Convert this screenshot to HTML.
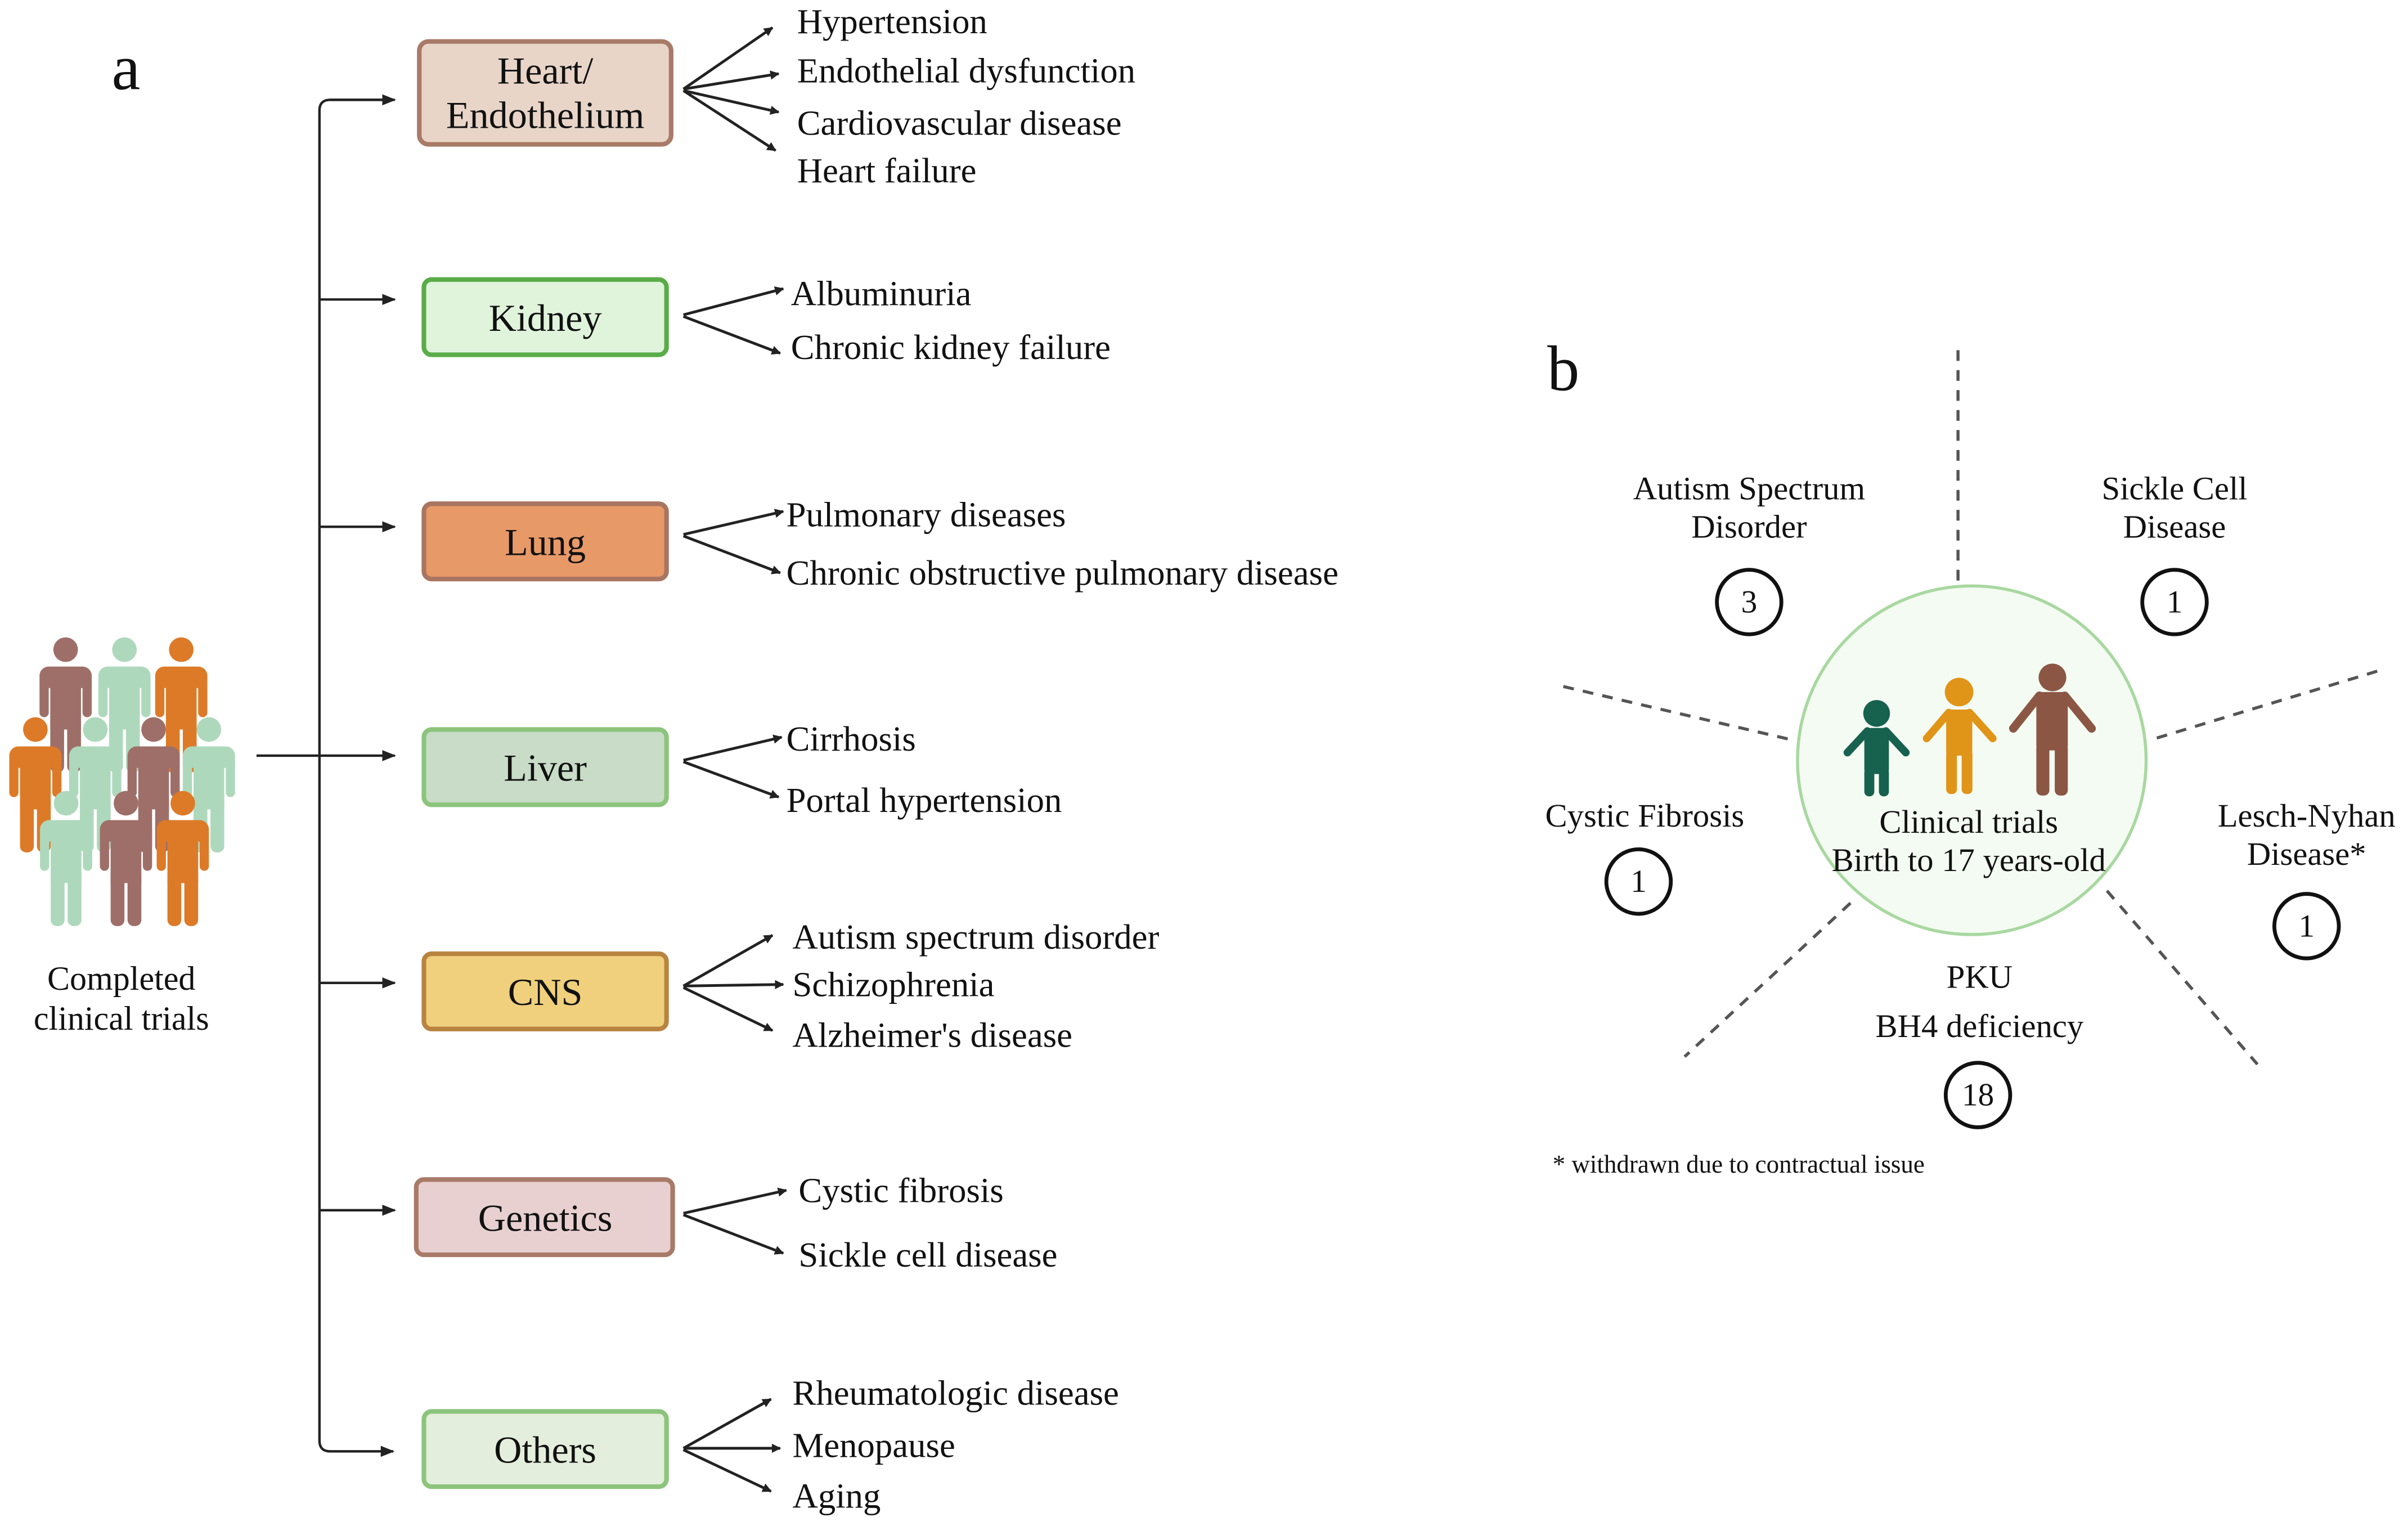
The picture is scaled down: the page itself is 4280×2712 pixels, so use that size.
<!DOCTYPE html>
<html><head><meta charset="utf-8"><style>
html,body{margin:0;padding:0;background:#fff;}
svg{display:block;}
text{font-family:"Liberation Serif","DejaVu Serif",serif;fill:#111;}
</style></head><body>
<svg width="4280" height="2712" viewBox="0 0 1568 993.6" xmlns="http://www.w3.org/2000/svg" font-family="Liberation Serif, serif">
<defs>
<marker id="ar" viewBox="0 0 10 10" refX="9" refY="5" markerWidth="6" markerHeight="6" markerUnits="userSpaceOnUse" orient="auto" >
<path d="M0,0 L10,5 L0,10 z" fill="#222"/></marker>
<marker id="ar2" viewBox="0 0 10 10" refX="9" refY="5" markerWidth="9" markerHeight="9" markerUnits="userSpaceOnUse" orient="auto">
<path d="M0,1 L10,5 L0,9 z" fill="#222"/></marker>
<g id="fig">
<circle cx="0" cy="8" r="8"/>
<rect x="-17" y="19" width="34" height="14" rx="6"/>
<rect x="-17" y="25" width="6" height="27" rx="3"/>
<rect x="11" y="25" width="6" height="27" rx="3"/>
<rect x="-10" y="25" width="20" height="35"/>
<rect x="-10" y="50" width="9" height="38" rx="4"/>
<rect x="1" y="50" width="9" height="38" rx="4"/>
</g>
</defs>

<text x="82" y="44" font-size="42" text-anchor="middle" dominant-baseline="central">a</text>

<g fill="#9e6f68"><use href="#fig" x="42.7" y="415"/></g>
<g fill="#aed8bc"><use href="#fig" x="81" y="415"/></g>
<g fill="#dd7a28"><use href="#fig" x="118" y="415"/></g>
<g fill="#dd7a28"><use href="#fig" x="23" y="467"/></g>
<g fill="#aed8bc"><use href="#fig" x="62" y="467"/></g>
<g fill="#9e6f68"><use href="#fig" x="100" y="467"/></g>
<g fill="#aed8bc"><use href="#fig" x="136" y="467"/></g>
<g fill="#aed8bc"><use href="#fig" x="43" y="515"/></g>
<g fill="#9e6f68"><use href="#fig" x="82" y="515"/></g>
<g fill="#dd7a28"><use href="#fig" x="119" y="515"/></g>
<text x="79" y="637" font-size="22" text-anchor="middle" dominant-baseline="central">Completed</text>
<text x="79" y="663" font-size="22" text-anchor="middle" dominant-baseline="central">clinical trials</text>

<g stroke="#222" stroke-width="1.6" fill="none">
<path d="M256 65 H215 Q208 65 208 72 V938 Q208 945 215 945 H256" marker-end="url(#ar2)"/>
<line x1="215" y1="65" x2="257" y2="65" marker-end="url(#ar2)"/>
<line x1="208" y1="195" x2="257" y2="195" marker-end="url(#ar2)"/>
<line x1="208" y1="343" x2="257" y2="343" marker-end="url(#ar2)"/>
<line x1="167" y1="492" x2="257" y2="492" marker-end="url(#ar2)"/>
<line x1="208" y1="640" x2="257" y2="640" marker-end="url(#ar2)"/>
<line x1="208" y1="788" x2="257" y2="788" marker-end="url(#ar2)"/>
</g>

<g stroke-width="3">
<rect x="273" y="27" width="164" height="67" rx="6" fill="#e8d5c8" stroke="#a87a68"/>
<rect x="276" y="182" width="158" height="49" rx="5" fill="#e0f4dc" stroke="#5aac48"/>
<rect x="276" y="328" width="158" height="49" rx="5" fill="#e89968" stroke="#a87560"/>
<rect x="276" y="475" width="158" height="49" rx="5" fill="#c8dcc8" stroke="#8cc47c"/>
<rect x="276" y="621" width="158" height="49" rx="5" fill="#f0d07c" stroke="#b88440"/>
<rect x="271" y="768" width="167" height="49" rx="5" fill="#e8d0d0" stroke="#a87a68"/>
<rect x="276" y="919" width="158" height="49" rx="5" fill="#e4eedc" stroke="#8cc47c"/>
</g>
<g font-size="25" text-anchor="middle" dominant-baseline="central">
<text x="355" y="46">Heart/</text>
<text x="355" y="75">Endothelium</text>
<text x="355" y="207">Kidney</text>
<text x="355" y="353">Lung</text>
<text x="355" y="500">Liver</text>
<text x="355" y="646">CNS</text>
<text x="355" y="793">Genetics</text>
<text x="355" y="944">Others</text>
</g>

<g stroke="#222" stroke-width="1.8" fill="none" marker-end="url(#ar)">
<line x1="445" y1="58" x2="503" y2="18"/>
<line x1="445" y1="58" x2="507" y2="48"/>
<line x1="445" y1="59" x2="507" y2="73"/>
<line x1="445" y1="59" x2="505" y2="98"/>
<line x1="445" y1="205" x2="510" y2="188"/>
<line x1="445" y1="206" x2="508" y2="230"/>
<line x1="445" y1="348" x2="510" y2="333"/>
<line x1="445" y1="349" x2="508" y2="373"/>
<line x1="445" y1="495" x2="509" y2="480"/>
<line x1="445" y1="496" x2="507" y2="519"/>
<line x1="445" y1="642" x2="503" y2="609"/>
<line x1="445" y1="642" x2="510" y2="641"/>
<line x1="445" y1="643" x2="503" y2="671"/>
<line x1="445" y1="790" x2="512" y2="775"/>
<line x1="445" y1="791" x2="510" y2="816"/>
<line x1="445" y1="943" x2="502" y2="911"/>
<line x1="445" y1="943" x2="508" y2="943"/>
<line x1="445" y1="944" x2="502" y2="971"/>
</g>
<g font-size="23" dominant-baseline="central">
<text x="519" y="14">Hypertension</text>
<text x="519" y="46">Endothelial dysfunction</text>
<text x="519" y="80">Cardiovascular disease</text>
<text x="519" y="111">Heart failure</text>
<text x="515" y="191">Albuminuria</text>
<text x="515" y="226">Chronic kidney failure</text>
<text x="512" y="335">Pulmonary diseases</text>
<text x="512" y="373">Chronic obstructive pulmonary disease</text>
<text x="512" y="481">Cirrhosis</text>
<text x="512" y="521">Portal hypertension</text>
<text x="516" y="610">Autism spectrum disorder</text>
<text x="516" y="641">Schizophrenia</text>
<text x="516" y="674">Alzheimer's disease</text>
<text x="520" y="775">Cystic fibrosis</text>
<text x="520" y="817">Sickle cell disease</text>
<text x="516" y="907">Rheumatologic disease</text>
<text x="516" y="941">Menopause</text>
<text x="516" y="974">Aging</text>
</g>

<text x="1018" y="240" font-size="42" text-anchor="middle" dominant-baseline="central">b</text>
<g stroke="#555" stroke-width="2" stroke-dasharray="7 6" fill="none">
<line x1="1275" y1="228" x2="1275" y2="378"/>
<line x1="1018" y1="447" x2="1168" y2="482"/>
<line x1="1548" y1="437" x2="1403" y2="481"/>
<line x1="1205" y1="588" x2="1097" y2="688"/>
<line x1="1372" y1="580" x2="1470" y2="693"/>
</g>
<circle cx="1284" cy="495" r="113.5" fill="#f4fbf2" stroke="#a8d8a0" stroke-width="2"/>

<g fill="#17614f" stroke="#17614f" stroke-linecap="round">
<circle cx="1222" cy="464.5" r="8.7" stroke="none"/>
<rect x="1214" y="474" width="16" height="30" rx="3" stroke="none"/>
<rect x="1214" y="500" width="6.5" height="18.5" rx="3" stroke="none"/>
<rect x="1223.5" y="500" width="6.5" height="18.5" rx="3" stroke="none"/>
<path d="M1216 476 L1203 490 M1228 476 L1241 490" stroke-width="5" fill="none"/>
</g>
<g fill="#e09418" stroke="#e09418" stroke-linecap="round">
<circle cx="1275.7" cy="450.6" r="9.3" stroke="none"/>
<rect x="1267.3" y="462" width="17" height="30" rx="3" stroke="none"/>
<rect x="1267.3" y="488" width="7" height="29" rx="3" stroke="none"/>
<rect x="1277.4" y="488" width="7" height="29" rx="3" stroke="none"/>
<path d="M1269 464 L1254.6 480.8 M1282.5 464 L1297.6 480.8" stroke-width="5" fill="none"/>
</g>
<g fill="#8b5744" stroke="#8b5744" stroke-linecap="round">
<circle cx="1336.5" cy="441.1" r="9" stroke="none"/>
<rect x="1326" y="450.6" width="20.5" height="38" rx="3" stroke="none"/>
<rect x="1326" y="484" width="8.5" height="34" rx="3.5" stroke="none"/>
<rect x="1338" y="484" width="8.5" height="34" rx="3.5" stroke="none"/>
<path d="M1328 453 L1311 474.3 M1344.5 453 L1362 474.3" stroke-width="5.5" fill="none"/>
</g>

<g font-size="21.5" text-anchor="middle" dominant-baseline="central">
<text x="1282" y="535">Clinical trials</text>
<text x="1282" y="560">Birth to 17 years-old</text>
<text x="1139" y="318">Autism Spectrum</text>
<text x="1139" y="343">Disorder</text>
<text x="1416" y="318">Sickle Cell</text>
<text x="1416" y="343">Disease</text>
<text x="1071" y="531">Cystic Fibrosis</text>
<text x="1502" y="531">Lesch-Nyhan</text>
<text x="1502" y="556">Disease*</text>
<text x="1289" y="636">PKU</text>
<text x="1289" y="668">BH4 deficiency</text>
</g>
<g fill="none" stroke="#111" stroke-width="2.5">
<circle cx="1139" cy="392" r="21"/>
<circle cx="1416" cy="392" r="21"/>
<circle cx="1067" cy="574" r="21"/>
<circle cx="1502" cy="603" r="21"/>
<circle cx="1288" cy="713" r="21"/>
</g>
<g font-size="21" text-anchor="middle" dominant-baseline="central">
<text x="1139" y="392">3</text>
<text x="1416" y="392">1</text>
<text x="1067" y="574">1</text>
<text x="1502" y="603">1</text>
<text x="1288" y="713">18</text>
</g>
<text x="1011" y="758" font-size="16.5" dominant-baseline="central">* withdrawn due to contractual issue</text>
</svg>
</body></html>
